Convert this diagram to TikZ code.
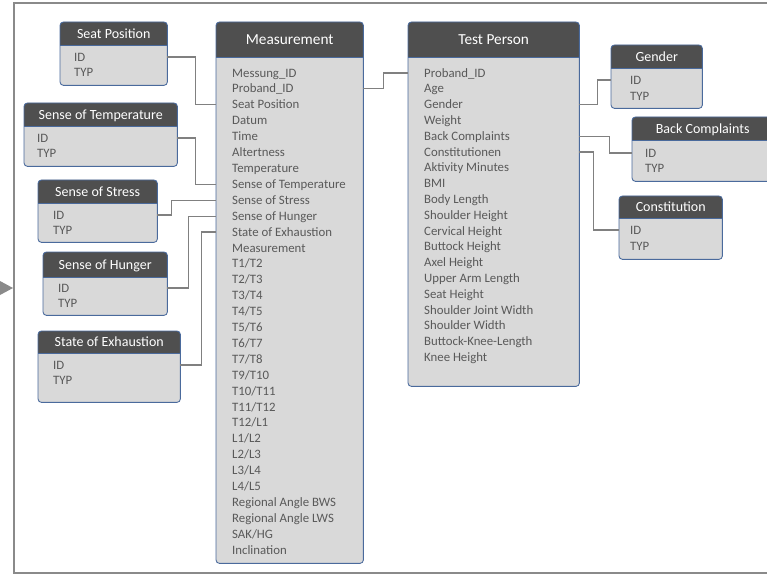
\documentclass[tikz,border=0pt]{standalone}
\usepackage{fontspec}
\setmainfont{Carlito}
\definecolor{hdrc}{HTML}{4F4F4F}
\definecolor{bodyc}{HTML}{D9D9D9}
\definecolor{bordc}{HTML}{4A6A9C}
\definecolor{txtc}{HTML}{595959}
\definecolor{connc}{HTML}{808080}
\definecolor{framec}{HTML}{8A8A8A}
\tikzset{
  tbody/.style={fill=bodyc, draw=none, rounded corners=3.5bp, inner sep=0pt, anchor=north west},
  htext/.style={text=white, inner sep=0pt, text height=9.3bp, text depth=0pt, anchor=center},
  itm/.style={text=txtc, inner sep=0pt, anchor=west, text height=8.2bp, text depth=0pt,
    font=\fontsize{12.8bp}{15bp}\selectfont},
  conn/.style={draw=connc, line width=1.1bp},
}
\newcommand\tbl[8]{%
  \node[tbody, minimum width=#4 bp, minimum height=#5 bp] (#1) at (#2,#3) {};
  \fill[hdrc, rounded corners=3.5bp] (#1.north west) rectangle ([yshift=-#6 bp]#1.north east);
  \fill[hdrc] ([yshift=-#6 bp+4bp]#1.north west) rectangle ([yshift=-#6 bp]#1.north east);
  \draw[bordc, line width=0.6bp] ([yshift=-#6 bp]#1.north west) -- ([yshift=-#6 bp]#1.north east);
  \draw[bordc, line width=0.9bp, rounded corners=3.5bp] (#1.north west) rectangle (#1.south east);
  \node[htext, font=\fontsize{#8 bp}{#8 bp}\selectfont] (#1-t) at ([yshift=-#6 bp/2]#1.north) {#7};
}
\begin{document}
\begin{tikzpicture}[x=1bp,y=-1bp]
\useasboundingbox (0,0) rectangle (767,574);
\clip (0,0) rectangle (767,574);
\fill[white] (0,0) rectangle (767,574);
% frame and arrow
\draw[framec, line width=2.2bp] (14,3) rectangle (800,573);
\fill[framec] (0,281) -- (13,288) -- (0,295) -- cycle;

% small tables left
\tbl{sp}{60}{22}{107}{63}{23}{Seat Position}{14}
\node[itm] (sp-1) at (74,57) {ID};
\node[itm] (sp-2) at (74,72) {TYP};

\tbl{st}{24}{103}{153}{63}{23}{Sense of Temperature}{14}
\node[itm] (st-1) at (37,138) {ID};
\node[itm] (st-2) at (37,153) {TYP};

\tbl{ss}{38}{180}{119}{62}{23}{Sense of Stress}{14}
\node[itm] (ss-1) at (53,215) {ID};
\node[itm] (ss-2) at (53,230) {TYP};

\tbl{sh}{43}{252}{124}{63}{25}{Sense of Hunger}{14}
\node[itm] (sh-1) at (58,288) {ID};
\node[itm] (sh-2) at (58,303) {TYP};

\tbl{se}{38}{331}{142}{71}{22}{State of Exhaustion}{14}
\node[itm] (se-1) at (53,365) {ID};
\node[itm] (se-2) at (53,380) {TYP};

% Measurement
\tbl{meas}{216}{22}{147}{541}{35}{Measurement}{15.3}
\foreach \t [count=\i] in {Messung\_ID, Proband\_ID, Seat Position, Datum, Time, Altertness,
  Temperature, Sense of Temperature, Sense of Stress, Sense of Hunger, State of Exhaustion,
  Measurement, T1/T2, T2/T3, T3/T4, T4/T5, T5/T6, T6/T7, T7/T8, T9/T10, T10/T11, T11/T12,
  T12/L1, L1/L2, L2/L3, L3/L4, L4/L5, Regional Angle BWS, Regional Angle LWS, SAK/HG, Inclination}
  \node[itm] (m-\i) at (232, 57.1+15.9*\i) {\t};

% Test Person
\tbl{tp}{408}{22}{171}{364}{35}{Test Person}{15.3}
\foreach \t [count=\i] in {Proband\_ID, Age, Gender, Weight, Back Complaints, Constitutionen,
  Aktivity Minutes, BMI, Body Length, Shoulder Height, Cervical Height, Buttock Height,
  Axel Height, Upper Arm Length, Seat Height, Shoulder Joint Width, Shoulder Width,
  Buttock-Knee-Length, Knee Height}
  \node[itm] (tp-\i) at (424, 57.2+15.8*\i) {\t};

% small tables right
\tbl{gen}{611}{45}{91}{63}{23}{Gender}{14}
\node[itm] (gen-1) at (630,80) {ID};
\node[itm] (gen-2) at (630,96) {TYP};

\tbl{bc}{632}{117}{141}{64}{23}{Back Complaints}{14}
\node[itm] (bc-1) at (645,153) {ID};
\node[itm] (bc-2) at (645,168) {TYP};

\tbl{con}{619}{196}{103}{63}{22}{Constitution}{14}
\node[itm] (con-1) at (630,230) {ID};
\node[itm] (con-2) at (630,246) {TYP};

% connectors
\draw[conn] (sp-1 -| sp.east) -- ++(28,0) |- (m-3 -| meas.west);
\draw[conn] (st-1 -| st.east) -- ++(18,0) |- (m-8 -| meas.west);
\draw[conn] (ss-1 -| ss.east) -- ++(14,0) |- (m-9 -| meas.west);
\draw[conn] (sh-1 -| sh.east) -- ++(21,0) |- (m-10 -| meas.west);
\draw[conn] (se-1 -| se.east) -- ++(21,0) |- (m-11 -| meas.west);
\draw[conn] (m-2 -| meas.east) -- ++(20,0) |- (tp-1 -| tp.west);
\draw[conn] (tp-3 -| tp.east) -- ++(18,0) |- (gen-1 -| gen.west);
\draw[conn] (tp-5 -| tp.east) -- ++(30,0) |- (bc-1 -| bc.west);
\draw[conn] (tp-6 -| tp.east) -- ++(14,0) |- (con-1 -| con.west);
\end{tikzpicture}
\end{document}
